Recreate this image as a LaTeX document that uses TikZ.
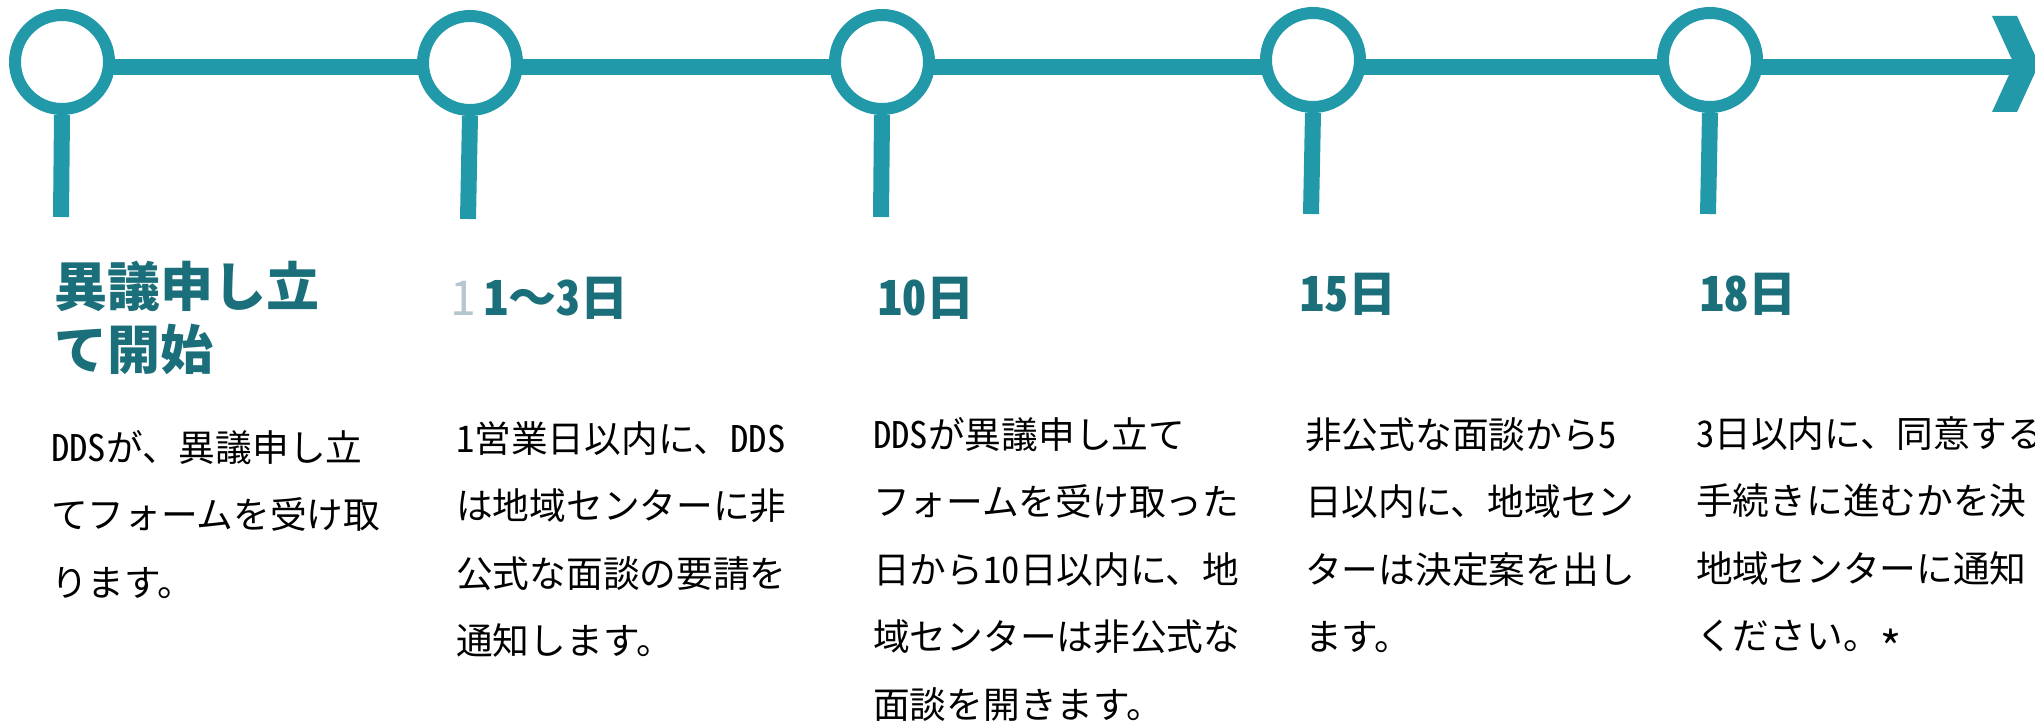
\documentclass[tikz,border=0pt]{standalone}
\usepackage{fontspec}
\setmainfont{Noto Sans CJK JP}[RawFeature=+hwid]
\newfontfamily\jpfull{Noto Sans CJK JP}
\usetikzlibrary{backgrounds}
\definecolor{lineteal}{HTML}{2199A9}
\definecolor{titleteal}{HTML}{1B6F7A}
\definecolor{ghost}{HTML}{B4C6CE}
\tikzset{
  ring/.style={circle, draw=lineteal, line width=12pt, fill=white, minimum size=94pt, inner sep=0pt},
  tline/.style={draw=lineteal, line width=16pt},
  stem/.style={draw=lineteal, line width=16pt},
  datelbl/.style={anchor=base west, inner sep=0pt, text=titleteal, font=\fontsize{48}{56}\selectfont\bfseries},
  bigtitle/.style={anchor=base west, inner sep=0pt, text=titleteal, font=\fontsize{53}{63}\selectfont\bfseries},
  bodytext/.style={anchor=base west, inner sep=0pt, text=black, font=\fontsize{36.7}{67.5}\selectfont},
}
\begin{document}
\begin{tikzpicture}[x=1pt,y=-1pt]
\useasboundingbox (0,0) rectangle (2035,722);
\clip (0,0) rectangle (2035,722);

% circles
\node[ring] (c1) at (62,62) {};
\node[ring] (c2) at (470,63) {};
\node[ring] (c3) at (882,62) {};
\node[ring] (c4) at (1313,60) {};
\node[ring] (c5) at (1710,60) {};

% stem ends
\coordinate (s1) at (61,217);
\coordinate (s2) at (468,219);
\coordinate (s3) at (881,217);
\coordinate (s4) at (1311,214);
\coordinate (s5) at (1708,214);
\coordinate (aend) at (2014,67);

\begin{scope}[on background layer]
  \fill[white] (0,0) rectangle (2035,722);
  \draw[tline] ([yshift=-5pt]c1.center) -- ([yshift=-4pt]c2.center);
  \draw[tline] ([yshift=-4pt]c2.center) -- ([yshift=-5pt]c3.center);
  \draw[tline] ([yshift=-5pt]c3.center) -- ([yshift=-7pt]c4.center);
  \draw[tline] ([yshift=-7pt]c4.center) -- ([yshift=-7pt]c5.center);
  \draw[tline] ([yshift=-7pt]c5.center) -- (aend);
\end{scope}

% stems
\draw[stem] (c1.south) -- (s1);
\draw[stem] (c2.south) -- (s2);
\draw[stem] (c3.south) -- (s3);
\draw[stem] (c4.south) -- (s4);
\draw[stem] (c5.south) -- (s5);

% arrow head (chevron)
\fill[lineteal] (1992,16) -- (2017,16) -- (2039,64) -- (2017,112) -- (1992,112) -- (2014,64) -- cycle;

% titles
\node[bigtitle] (t1) at (54,306) {\parbox[t]{400pt}{\raggedright 異議申し立\\て開始}};
\node[datelbl, text=ghost, font=\fontsize{48}{56}\selectfont] (g2) at (451,315) {1};
\node[datelbl] (t2) at (484,315) {1{\jpfull\bfseries 〜}3日};
\node[datelbl] (t3) at (878,315) {10日};
\node[datelbl] (t4) at (1300,311) {15日};
\node[datelbl] (t5) at (1700,311) {18日};

% body texts
\node[bodytext] (b1) at (51,461) {\parbox[t]{400pt}{\raggedright DDSが、異議申し立\\てフォームを受け取\\ります。}};
\node[bodytext] (b2) at (456,452) {\parbox[t]{400pt}{\raggedright 1営業日以内に、DDS\\は地域センターに非\\公式な面談の要請を\\通知します。}};
\node[bodytext] (b3) at (873,448) {\parbox[t]{400pt}{\raggedright DDSが異議申し立て\\フォームを受け取った\\日から10日以内に、地\\域センターは非公式な\\面談を開きます。}};
\node[bodytext] (b4) at (1305,448) {\parbox[t]{400pt}{\raggedright 非公式な面談から5\\日以内に、地域セン\\ターは決定案を出し\\ます。}};
\node[bodytext] (b5) at (1696,447) {\parbox[t]{400pt}{\raggedright 3日以内に、同意する\\手続きに進むかを決\\地域センターに通知\\ください。\raisebox{-16pt}{\scalebox{1.25}{*}}}};
\end{tikzpicture}
\end{document}
